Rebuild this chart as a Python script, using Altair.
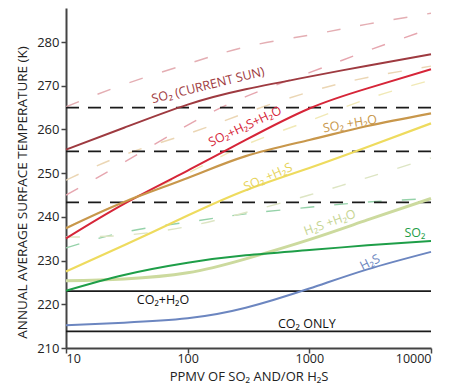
import altair as alt
import pandas as pd

# ---------------- data ----------------
ppmv = [10, 30, 100, 300, 1000, 3000, 10000]

so2_current_sun = [255.4, 260.4, 265.7, 269.2, 272.1, 274.6, 277.2]
so2_h2s_h2o = [235.1, 243.0, 250.6, 257.6, 264.8, 269.4, 273.8]
so2_h2o = [237.4, 243.4, 248.9, 253.9, 257.6, 260.8, 263.7]
so2_h2s = [227.5, 233.5, 240.3, 246.1, 251.2, 256.0, 261.4]
h2s_h2o = [225.4, 225.8, 227.2, 230.4, 234.8, 239.3, 244.2]
so2 = [223.1, 226.7, 229.5, 231.2, 232.4, 233.5, 234.5]
h2s = [215.2, 215.8, 216.8, 219.2, 223.6, 228.0, 232.0]

dash_so2_current_sun = [265.2, 270.3, 275.0, 278.9, 281.6, 284.1, 286.6]
dash_so2_h2s_h2o = [245.0, 252.5, 261.0, 267.5, 273.0, 278.0, 283.1]
dash_so2_h2o = [248.4, 254.2, 259.0, 263.8, 268.6, 271.9, 274.5]
dash_so2_h2s = [237.5, 243.5, 250.0, 256.5, 262.0, 267.0, 271.3]
dash_so2 = [232.9, 236.5, 238.8, 240.7, 242.2, 243.4, 244.2]
dash_h2s_h2o = [235.4, 235.8, 237.8, 241.0, 245.0, 249.0, 253.5]

dashed_refs = [265.0, 255.0, 243.3]
solid_refs = [223.0, 213.8]

label_texts = ["SO₂ (CURRENT SUN)", "SO₂+H₂S+H₂O", "SO₂ +H₂O", "SO₂ +H₂S",
               "H₂S +H₂O", "SO₂", "H₂S", "CO₂+H₂O", "CO₂ ONLY"]
label_ppmv = [147, 296, 2158, 457, 1476, 7380, 3150, 62.7, 955]
label_temp = [270.1, 260.7, 261.3, 249.1, 238.7, 236.3, 229.6, 221.0, 215.5]
label_angle = [346, 335, 350, 336, 340, 0, 334, 0, 0]

# ---------------- styles ----------------
solid_series = [
    ("so2_current_sun", so2_current_sun, "#9E3A40", 2.0),
    ("so2_h2s_h2o", so2_h2s_h2o, "#D62538", 2.0),
    ("so2_h2o", so2_h2o, "#C8974B", 2.2),
    ("so2_h2s", so2_h2s, "#EEDB5E", 2.2),
    ("h2s_h2o", h2s_h2o, "#CCDA9E", 3.0),
    ("so2", so2, "#1E9E48", 2.0),
    ("h2s", h2s, "#6C86C0", 2.0),
]
dashed_series = [
    ("d_so2_current_sun", dash_so2_current_sun, "#E4AEB3"),
    ("d_so2_h2s_h2o", dash_so2_h2s_h2o, "#E6A6AF"),
    ("d_so2_h2o", dash_so2_h2o, "#EBD6B4"),
    ("d_so2_h2s", dash_so2_h2s, "#F1E9B6"),
    ("d_so2", dash_so2, "#95D2A9"),
    ("d_h2s_h2o", dash_h2s_h2o, "#DDE5C3"),
]
label_colors = ["#9E3A40", "#D62538", "#C8974B", "#E6D35A", "#C6D592",
                "#1E9E48", "#6C86C0", "#111111", "#111111"]

FONT = "Open Sans"

x_scale = alt.Scale(type="log", domain=[10, 10000], nice=False)
y_scale = alt.Scale(domain=[210, 287.8], nice=False, zero=False)

x_axis = alt.Axis(values=[10, 100, 1000, 10000], format="d",
                  title="PPMV OF SO₂ AND/OR H₂S", grid=False,
                  tickSize=5, labelPadding=-1, labelFontSize=12.5,
                  titleY=32, titleBaseline="alphabetic", titleFontSize=13)
y_axis = alt.Axis(values=[210, 220, 230, 240, 250, 260, 270, 280],
                  title="ANNUAL AVERAGE SURFACE TEMPERATURE (K)", grid=False,
                  tickSize=5, labelPadding=2, titleX=-44, titleY=184,
                  titleBaseline="middle", titleAlign="center", titleAngle=270)

layers = []

# pale dashed curves
for name, vals, color in dashed_series:
    df = pd.DataFrame({"ppmv": ppmv, "K": vals})
    layers.append(
        alt.Chart(df).mark_line(color=color, strokeWidth=1.4, strokeDash=[14, 20],
                                interpolate="natural", clip=True)
        .encode(x=alt.X("ppmv:Q", scale=x_scale, axis=x_axis),
                y=alt.Y("K:Q", scale=y_scale, axis=y_axis))
    )

# reference lines
layers.append(
    alt.Chart(pd.DataFrame({"K": dashed_refs})).mark_rule(
        color="#1a1a1a", strokeWidth=1.8, strokeDash=[13, 9])
    .encode(y=alt.Y("K:Q", scale=y_scale))
)
layers.append(
    alt.Chart(pd.DataFrame({"K": solid_refs})).mark_rule(
        color="#1a1a1a", strokeWidth=1.8)
    .encode(y=alt.Y("K:Q", scale=y_scale))
)

# solid model curves
for name, vals, color, w in solid_series:
    df = pd.DataFrame({"ppmv": ppmv, "K": vals})
    layers.append(
        alt.Chart(df).mark_line(color=color, strokeWidth=w, interpolate="natural")
        .encode(x=alt.X("ppmv:Q", scale=x_scale),
                y=alt.Y("K:Q", scale=y_scale))
    )

# curve labels
for t, xv, yv, ang, col in zip(label_texts, label_ppmv, label_temp, label_angle, label_colors):
    df = pd.DataFrame({"ppmv": [xv], "K": [yv], "txt": [t]})
    layers.append(
        alt.Chart(df).mark_text(font=FONT, fontSize=12.5, color=col, angle=ang,
                                align="center", baseline="middle")
        .encode(x=alt.X("ppmv:Q", scale=x_scale),
                y=alt.Y("K:Q", scale=y_scale),
                text="txt:N")
    )

chart = alt.layer(*layers).properties(
    width=365, height=340,
    autosize=alt.AutoSizeParams(type="none"),
    padding={"left": 58, "top": 0, "right": 12, "bottom": 35},
).configure_view(stroke=None).configure_axis(
    domainColor="#444444", domainWidth=2, tickColor="#444444", tickWidth=1.5,
    labelFont=FONT, labelFontSize=13, labelColor="#222222",
    titleFont=FONT, titleFontSize=13.5, titleFontWeight="normal", titleColor="#222222",
)

chart.save("out.html", embed_options={"renderer": "svg", "actions": False})
